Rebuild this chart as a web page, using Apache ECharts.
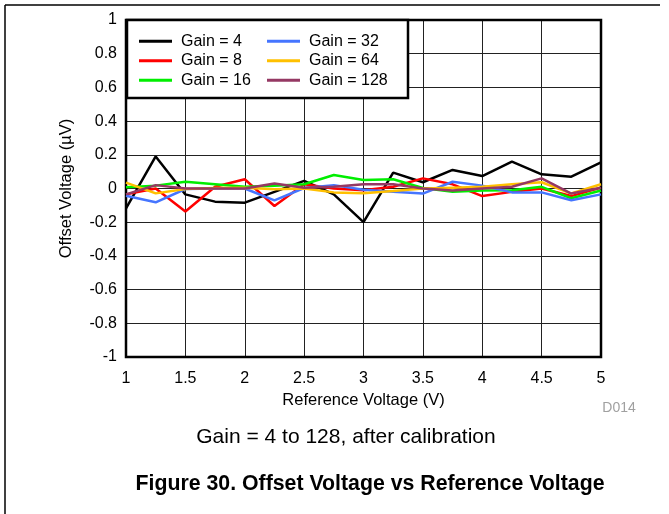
<!DOCTYPE html>
<html><head><meta charset="utf-8">
<script src="https://cdn.jsdelivr.net/npm/echarts@6/dist/echarts.min.js"></script>
<style>html,body{margin:0;padding:0;background:#fff;}#c{width:669px;height:514px;}</style>
</head><body><div id="c"></div>
<script>
const xValues = [1, 1.25, 1.5, 1.75, 2, 2.25, 2.5, 2.75, 3, 3.25, 3.5, 3.75, 4, 4.25, 4.5, 4.75, 5];
const gain4   = [-0.118, 0.19, -0.035, -0.078, -0.084, -0.02, 0.045, -0.035, -0.2, 0.094, 0.037, 0.11, 0.074, 0.16, 0.084, 0.07, 0.155];
const gain8   = [-0.035, 0.0, -0.137, 0.01, 0.055, -0.104, 0.025, 0.0, -0.01, 0.01, 0.06, 0.025, -0.045, -0.02, 0.0, -0.045, 0.005];
const gain16  = [0.007, 0.017, 0.04, 0.025, 0.01, 0.017, 0.025, 0.08, 0.05, 0.055, 0.003, -0.02, -0.012, -0.01, 0.01, -0.058, -0.012];
const gain32  = [-0.043, -0.082, -0.003, 0.0, 0.0, -0.07, 0.003, 0.02, -0.008, -0.02, -0.03, 0.04, 0.017, -0.023, -0.023, -0.07, -0.035];
const gain64  = [0.035, -0.029, -0.003, 0.003, 0.005, -0.005, 0.0, -0.023, -0.028, -0.015, 0.0, 0.005, 0.01, 0.025, 0.037, -0.03, 0.025];
const gain128 = [-0.035, 0.02, 0.0, 0.0, 0.0, 0.03, 0.005, 0.01, 0.025, 0.025, 0.0, -0.012, 0.0, 0.01, 0.06, -0.03, 0.005];
const seriesNames = ['Gain = 4', 'Gain = 8', 'Gain = 16', 'Gain = 32', 'Gain = 64', 'Gain = 128'];
const seriesData = [gain4, gain8, gain16, gain32, gain64, gain128];
const colors = ['#000000', '#ff0000', '#00ee00', '#4575ff', '#ffc000', '#953863'];

const FONT = '"Liberation Sans", Arial, sans-serif';
const chart = echarts.init(document.getElementById('c'), null, {renderer: 'canvas'});
const legendCommon = {
  orient: 'vertical', icon: 'rect', itemWidth: 33, itemHeight: 3, itemGap: 0, z: 20,
  textStyle: {fontFamily: FONT, fontSize: 16, color: '#000', lineHeight: 19.5, padding: [0, 0, 0, 4]},
  selectedMode: false, padding: 0
};
chart.setOption({
  animation: false,
  color: colors,
  textStyle: {fontFamily: FONT},
  grid: {left: 126, top: 20, right: 68, bottom: 157, show: true, borderColor: '#000', borderWidth: 2.5, backgroundColor: 'transparent', z: 5},
  xAxis: {
    type: 'value', min: 1, max: 5, interval: 0.5,
    name: 'Reference Voltage (V)', nameLocation: 'middle', nameGap: 34,
    nameTextStyle: {fontFamily: FONT, fontSize: 16.5, color: '#000'},
    axisLine: {show: false}, axisTick: {show: false},
    axisLabel: {fontFamily: FONT, fontSize: 16, color: '#000', margin: 14},
    splitLine: {show: true, lineStyle: {color: '#222', width: 1}}
  },
  yAxis: {
    type: 'value', min: -1, max: 1, interval: 0.2,
    name: 'Offset Voltage (\u00b5V)', nameLocation: 'middle', nameGap: 51,
    nameTextStyle: {fontFamily: FONT, fontSize: 16.5, color: '#000'},
    axisLine: {show: false}, axisTick: {show: false},
    axisLabel: {fontFamily: FONT, fontSize: 16, color: '#000', margin: 9,
      formatter: v => String(Math.round(v * 10) / 10)},
    splitLine: {show: true, lineStyle: {color: '#222', width: 1}}
  },
  legend: [
    Object.assign({left: 139, top: 31.5, data: seriesNames.slice(0, 3)}, legendCommon),
    Object.assign({left: 267, top: 31.5, data: seriesNames.slice(3, 6)}, legendCommon)
  ],
  graphic: [
    {type: 'rect', z: 10, shape: {x: 127, y: 20, width: 281, height: 78}, style: {fill: '#fff', stroke: '#000', lineWidth: 2.5}},
    {type: 'line', shape: {x1: 5, y1: 5, x2: 660, y2: 5}, style: {stroke: '#000', lineWidth: 1.5}},
    {type: 'line', shape: {x1: 5, y1: 5, x2: 5, y2: 514}, style: {stroke: '#000', lineWidth: 1.5}},
    {type: 'text', x: 619, y: 408, style: {text: 'D014', fill: '#a0a0a0', font: '14px ' + FONT, textAlign: 'center', textVerticalAlign: 'middle'}},
    {type: 'text', x: 346, y: 437, style: {text: 'Gain = 4 to 128, after calibration', fill: '#000', font: '21px ' + FONT, textAlign: 'center', textVerticalAlign: 'middle'}},
    {type: 'text', x: 370, y: 484, style: {text: 'Figure 30. Offset Voltage vs Reference Voltage', fill: '#000', font: 'bold 21.3px ' + FONT, textAlign: 'center', textVerticalAlign: 'middle'}}
  ],
  series: seriesNames.map((n, i) => ({
    name: n, type: 'line', showSymbol: false, symbol: 'none',
    lineStyle: {width: 2.5, color: colors[i]},
    data: xValues.map((x, j) => [x, seriesData[i][j]]),
    z: 3 + i
  }))
});
</script></body></html>
